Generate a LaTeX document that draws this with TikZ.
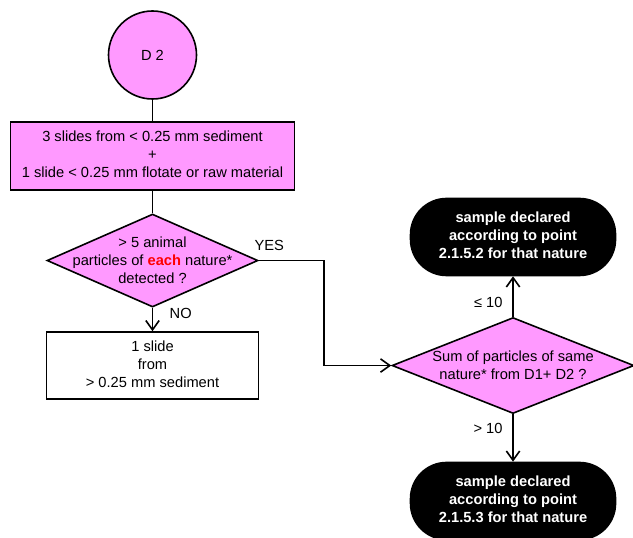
\documentclass[tikz,border=0pt]{standalone}
\usepackage{fontspec}
\setmainfont{Liberation Sans}
\usepackage{tikz}
\usetikzlibrary{arrows.meta}
\usetikzlibrary{positioning}
\usetikzlibrary{shapes}
\definecolor{pinkfill}{RGB}{255,153,255}
\tikzset{
    startcirc/.style={
           circle,
           draw=black, line width=1.2pt,
           fill=pinkfill,
           minimum size=66pt,
           inner sep=0pt,
           },
    process/.style={
           rectangle,
           draw=black, line width=1.2pt,
           fill=pinkfill,
           inner sep=2pt,
           text centered,
           },
    process2/.style={
           rectangle,
           draw=black, line width=1.2pt,
           fill=white,
           inner sep=2pt,
           text centered,
           },
    decision/.style={
           diamond,
           draw=black, line width=1.2pt,
           fill=pinkfill,
           inner sep=0pt,
           },
    terminal/.style={
           rectangle,
           rounded corners=27pt,
           draw=black, line width=1.2pt,
           fill=black,
           text=white,
           font=\fontsize{11pt}{13.5pt}\selectfont\bfseries,
           minimum width=153.75pt,
           minimum height=57.75pt,
           inner sep=2pt,
           text centered,
           },
}

\begin{document}
\begin{tikzpicture}
[
->,>={Straight Barb[length=7pt,width=10pt]},
x=0.75pt,y=0.75pt,
line width=1.2pt,
font=\fontsize{11pt}{13.5pt}\selectfont
]
\useasboundingbox (0,0) rectangle (633,-538);

 % START D 2
 \node[startcirc] (D2) at (152.5,-55) {D 2};

 % SLIDES FROM < 0.25 MM
 \node[process,
 below of=D2,
 node distance=75.75pt,
 minimum width=213pt,
 minimum height=51pt] (SLIDES3)
 {%
 \begin{tabular}{@{}c@{}}
  3 slides from < 0.25 mm sediment\\
  +\\
  1 slide < 0.25 mm flotate or raw material
 \end{tabular}
 };

 % QUESTION ANIMAL PARTICLES
 % text is smashed so the diamond keeps its own size
 \node[decision,
 below of=SLIDES3,
 node distance=78.4pt,
 shape aspect=2.27,
 minimum width=158.25pt,
 minimum height=69.75pt] (QANIMAL)
 {%
 \smash{\raisebox{-3.5pt}{\begin{tabular}{@{}c@{}}
  > 5 animal\\
  particles of \textcolor{red}{\textbf{each}} nature*\\
  detected ?
 \end{tabular}}}
 };

 % SLIDE FROM > 0.25 MM
 \node[process2,
 below of=QANIMAL,
 node distance=78.75pt,
 minimum width=159pt,
 minimum height=50.25pt] (SLIDE1)
 {%
 \begin{tabular}{@{}c@{}}
  1 slide\\
  from\\
  > 0.25 mm sediment
 \end{tabular}
 };

 % QUESTION SUM D1 + D2
 \node[decision,
 right of=SLIDE1,
 node distance=270.4pt,
 shape aspect=2.52,
 minimum width=181.5pt,
 minimum height=72pt] (QSUM)
 {%
 \smash{\raisebox{-3.5pt}{\begin{tabular}{@{}c@{}}
  Sum of particles of same\\
  nature* from D1+ D2 ?
 \end{tabular}}}
 };

 % RESULTS
 \node[terminal,
 above of=QSUM,
 node distance=96.4pt] (DECL2)
 {%
 \begin{tabular}{@{}c@{}}
  sample declared\\
  according to point\\
  2.1.5.2 for that nature
 \end{tabular}
 };

 \node[terminal,
 below of=QSUM,
 node distance=101.6pt] (DECL3)
 {%
 \begin{tabular}{@{}c@{}}
  sample declared\\
  according to point\\
  2.1.5.3 for that nature
 \end{tabular}
 };

 % draw the paths and print the answers beside them
 \path
  (D2) edge[-] (SLIDES3)
  (SLIDES3) edge[-] (QANIMAL)
 ;
 \draw (QANIMAL) -- node[pos=0.24, anchor=west, xshift=9pt]{NO} (SLIDE1);
 \draw (QANIMAL.east)
  node[anchor=south west, inner sep=0pt, xshift=-3.75pt, yshift=6.75pt]{YES}
  -- ++(65,0) |- (QSUM.west);
 \draw (QSUM) -- node[pos=0.36, left, xshift=-4pt]{≤ 10} (DECL2);
 \draw (QSUM) -- node[pos=0.3, left, xshift=-4pt]{> 10} (DECL3);
\end{tikzpicture}
\end{document}
